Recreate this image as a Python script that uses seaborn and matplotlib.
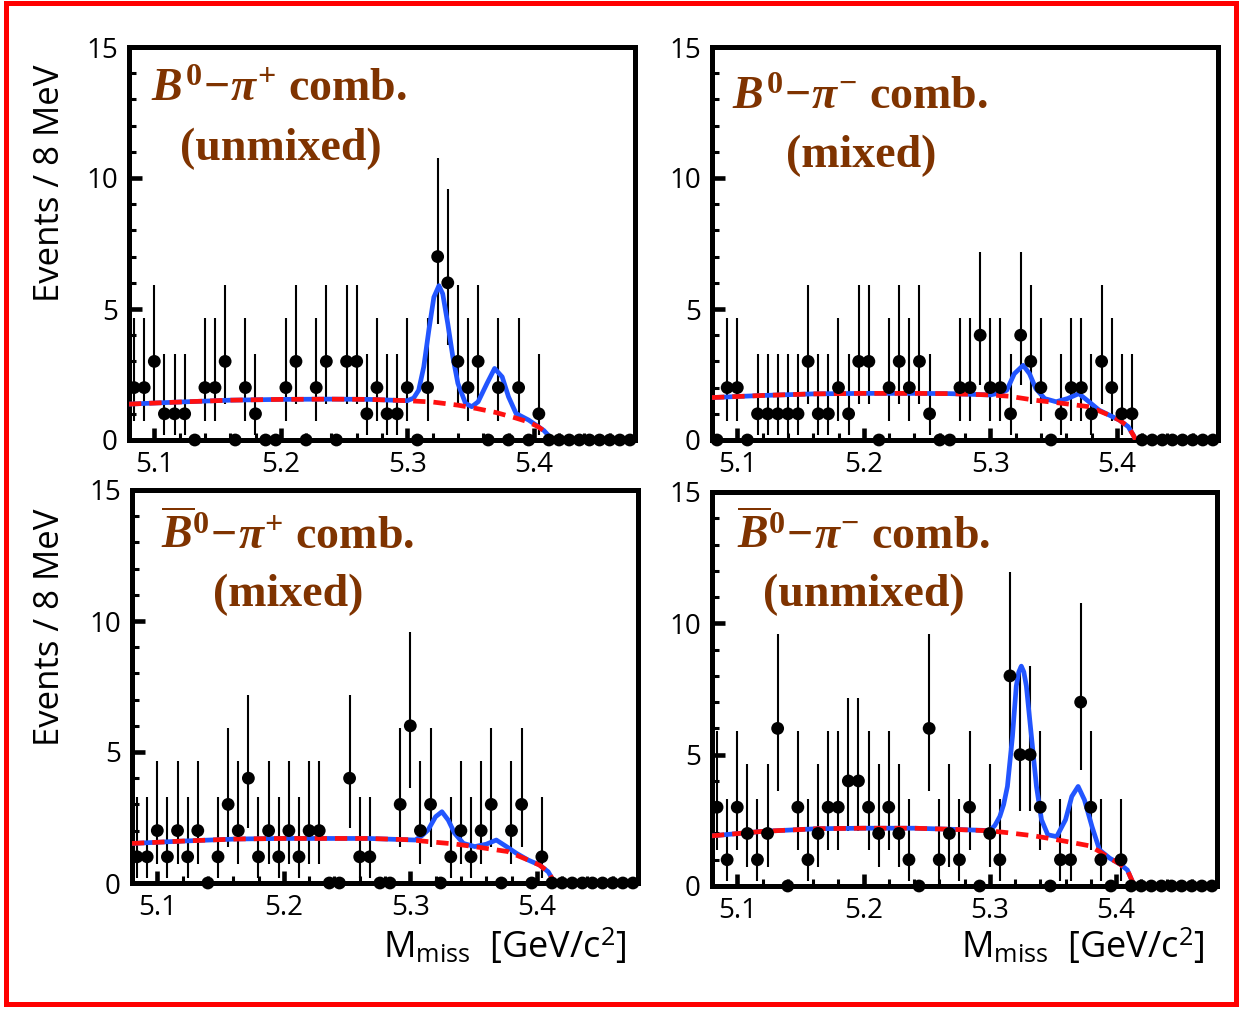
import numpy as np
import pandas as pd
import seaborn as sns
import matplotlib.pyplot as plt
from matplotlib.patches import Rectangle
from matplotlib.ticker import MultipleLocator, FormatStrFormatter

# 8 MeV bins, 5.08 - 5.48 GeV/c^2
bin_centers = np.round(5.084 + 0.008 * np.arange(50), 3)

counts_b0_pip = [2, 2, 3, 1, 1, 1, 0, 2, 2, 3,
                 0, 2, 1, 0, 0, 2, 3, 0, 2, 3,
                 0, 3, 3, 1, 2, 1, 1, 2, 0, 2,
                 7, 6, 3, 2, 3, 0, 2, 0, 2, 0,
                 1, 0, 0, 0, 0, 0, 0, 0, 0, 0]
counts_b0_pim = [0, 2, 2, 0, 1, 1, 1, 1, 1, 3,
                 1, 1, 2, 1, 3, 3, 0, 2, 3, 2,
                 3, 1, 0, 0, 2, 2, 4, 2, 2, 1,
                 4, 3, 2, 0, 1, 2, 2, 1, 3, 2,
                 1, 1, 0, 0, 0, 0, 0, 0, 0, 0]
counts_b0bar_pip = [1, 1, 2, 1, 2, 1, 2, 0, 1, 3,
                    2, 4, 1, 2, 1, 2, 1, 2, 2, 0,
                    0, 4, 1, 1, 0, 0, 3, 6, 2, 3,
                    0, 1, 2, 1, 2, 3, 0, 2, 3, 0,
                    1, 0, 0, 0, 0, 0, 0, 0, 0, 0]
counts_b0bar_pim = [3, 1, 3, 2, 1, 2, 6, 0, 3, 1,
                    2, 3, 3, 4, 4, 3, 2, 3, 2, 1,
                    0, 6, 1, 2, 1, 3, 0, 2, 1, 8,
                    5, 5, 3, 0, 1, 1, 7, 3, 1, 0,
                    1, 0, 0, 0, 0, 0, 0, 0, 0, 0]

# 68% Poisson intervals for n = 0..8
poisson_lo = [0.0, 0.173, 0.708, 1.367, 2.086, 2.840, 3.620, 4.419, 5.232]
poisson_hi = [1.841, 3.300, 4.638, 5.918, 7.163, 8.382, 9.584, 10.77, 11.95]

# fit curves: background (dashed) and total (solid)
bg1_m = [5.080, 5.120, 5.160, 5.200, 5.240, 5.270, 5.300, 5.320, 5.340, 5.355, 5.370, 5.385, 5.395, 5.403, 5.408, 5.413, 5.415]
bg1_y = [1.37, 1.45, 1.52, 1.55, 1.56, 1.55, 1.50, 1.45, 1.33, 1.20, 1.05, 0.85, 0.70, 0.52, 0.35, 0.10, 0.0]
tot1_m = [5.080, 5.120, 5.160, 5.200, 5.240, 5.270, 5.300, 5.305, 5.309, 5.313, 5.317, 5.321, 5.325, 5.328, 5.332, 5.336, 5.340, 5.346,
          5.351, 5.356, 5.363, 5.369, 5.375, 5.380, 5.386, 5.396, 5.403, 5.408, 5.413, 5.415]
tot1_y = [1.37, 1.45, 1.52, 1.55, 1.56, 1.55, 1.50, 1.60, 1.90, 2.79, 4.18, 5.45, 5.89, 5.58, 4.44, 3.17, 2.16, 1.40,
          1.27, 1.46, 2.16, 2.73, 2.41, 1.65, 1.01, 0.76, 0.53, 0.36, 0.10, 0.0]

bg2_m = [5.080, 5.120, 5.160, 5.200, 5.240, 5.268, 5.300, 5.315, 5.335, 5.357, 5.378, 5.394, 5.402, 5.409, 5.413, 5.415]
bg2_y = [1.62, 1.70, 1.76, 1.78, 1.78, 1.77, 1.72, 1.67, 1.52, 1.40, 1.27, 0.95, 0.76, 0.51, 0.19, 0.0]
tot2_m = [5.080, 5.120, 5.160, 5.200, 5.240, 5.268, 5.300, 5.308, 5.313, 5.319, 5.326, 5.331, 5.336, 5.343, 5.352, 5.361,
          5.370, 5.378, 5.386, 5.394, 5.402, 5.409, 5.413, 5.415]
tot2_y = [1.62, 1.70, 1.76, 1.78, 1.78, 1.77, 1.72, 1.80, 1.90, 2.53, 2.85, 2.53, 1.96, 1.58, 1.46, 1.58,
          1.77, 1.46, 1.14, 0.95, 0.76, 0.51, 0.19, 0.0]

bg3_m = [5.080, 5.120, 5.163, 5.200, 5.240, 5.267, 5.300, 5.314, 5.335, 5.356, 5.377, 5.393, 5.402, 5.409, 5.412, 5.414]
bg3_y = [1.51, 1.60, 1.68, 1.70, 1.70, 1.70, 1.65, 1.58, 1.49, 1.35, 1.20, 0.88, 0.69, 0.43, 0.18, 0.0]
tot3_m = [5.080, 5.120, 5.163, 5.200, 5.240, 5.267, 5.304, 5.309, 5.314, 5.320, 5.325, 5.330, 5.335, 5.342, 5.351, 5.360,
          5.368, 5.376, 5.384, 5.393, 5.402, 5.409, 5.412, 5.414]
tot3_y = [1.51, 1.60, 1.68, 1.70, 1.70, 1.70, 1.64, 1.80, 2.02, 2.53, 2.72, 2.40, 1.90, 1.51, 1.39, 1.48,
          1.64, 1.39, 1.13, 0.88, 0.69, 0.43, 0.18, 0.0]

bg4_m = [5.080, 5.120, 5.163, 5.200, 5.240, 5.269, 5.300, 5.314, 5.335, 5.358, 5.379, 5.387, 5.395, 5.403, 5.409, 5.413, 5.415]
bg4_y = [1.91, 2.08, 2.18, 2.20, 2.20, 2.16, 2.10, 2.03, 1.91, 1.72, 1.53, 1.31, 1.06, 0.84, 0.61, 0.17, 0.0]
tot4_m = [5.080, 5.120, 5.163, 5.200, 5.240, 5.269, 5.300, 5.304, 5.308, 5.311, 5.314, 5.318, 5.321, 5.323, 5.325, 5.327,
          5.329, 5.333, 5.337, 5.341, 5.346, 5.353, 5.360, 5.365, 5.370, 5.375, 5.381, 5.387, 5.395, 5.403, 5.409, 5.413, 5.415]
tot4_y = [1.91, 2.08, 2.18, 2.20, 2.20, 2.16, 2.11, 2.30, 2.65, 3.10, 3.79, 5.70, 7.61, 8.15, 8.37, 8.15,
          7.61, 5.70, 3.79, 2.52, 1.95, 1.88, 2.52, 3.41, 3.79, 3.28, 2.26, 1.37, 1.06, 0.84, 0.61, 0.17, 0.0]

titles_top = [r"$B^{\mathit{0}}\!-\!\pi^{+}$ comb.", r"$B^{\mathit{0}}\!-\!\pi^{-}$ comb.",
              r"$\overline{B}^{\mathit{0}}\!-\!\pi^{+}$ comb.", r"$\overline{B}^{\mathit{0}}\!-\!\pi^{-}$ comb."]
titles_bottom = ["(unmixed)", "(mixed)", "(mixed)", "(unmixed)"]

sns.set_theme(style="ticks")
plt.rcParams["font.family"] = ["Open Sans", "DejaVu Sans"]
plt.rcParams["text.color"] = "black"
plt.rcParams["xtick.color"] = "black"
plt.rcParams["ytick.color"] = "black"
plt.rcParams["mathtext.fontset"] = "custom"
plt.rcParams["mathtext.rm"] = "Liberation Serif:bold"
plt.rcParams["mathtext.it"] = "Liberation Serif:italic:bold"
plt.rcParams["mathtext.bf"] = "Liberation Serif:bold"
plt.rcParams["mathtext.sf"] = "Open Sans"

BROWN = "#7f3300"
BLUE = "#2255ff"
RED = "#ff1010"

fig = plt.figure(figsize=(12.4, 10.09), dpi=100)
W, H = 1240, 1009

# pixel boxes (left, top, right, bottom)
boxes = [(129, 47, 635, 440), (712, 47, 1218, 440), (132, 490, 638, 883), (712, 492, 1217, 886)]
panels = [
    (counts_b0_pip, bg1_m, bg1_y, tot1_m, tot1_y, (0.296, 0.862), (0.300, 0.712)),
    (counts_b0_pim, bg2_m, bg2_y, tot2_m, tot2_y, (0.292, 0.842), (0.294, 0.695)),
    (counts_b0bar_pip, bg3_m, bg3_y, tot3_m, tot3_y, (0.307, 0.849), (0.308, 0.705)),
    (counts_b0bar_pim, bg4_m, bg4_y, tot4_m, tot4_y, (0.300, 0.855), (0.301, 0.711)),
]

for i, (box, pan) in enumerate(zip(boxes, panels)):
    l, t, r, b = box
    ax = fig.add_axes([l / W, 1 - b / H, (r - l) / W, (b - t) / H])
    counts, bg_m, bg_y, tot_m, tot_y, pos1, pos2 = pan
    df = pd.DataFrame({"m": bin_centers, "n": counts})
    df["lo"] = [poisson_lo[n] for n in df["n"]]
    df["hi"] = [poisson_hi[n] for n in df["n"]]
    nz = df[df["n"] > 0]
    ax.vlines(nz["m"], nz["lo"], nz["hi"], color="black", lw=1.5, zorder=2)
    sns.lineplot(x=tot_m, y=tot_y, ax=ax, color=BLUE, lw=3.4, zorder=3)
    sns.lineplot(x=bg_m, y=bg_y, ax=ax, color=RED, lw=3.4, linestyle=(0, (2.6, 1.7)), zorder=4)
    sns.scatterplot(data=df, x="m", y="n", ax=ax, color="black", s=85, edgecolor="none",
                    clip_on=False, zorder=5)

    ax.set_xlim(5.08, 5.48)
    ax.set_ylim(0, 15)
    ax.set_xticks([5.1, 5.2, 5.3, 5.4])
    ax.xaxis.set_major_formatter(FormatStrFormatter("%.1f"))
    ax.xaxis.set_minor_locator(MultipleLocator(0.02))
    ax.set_yticks([0, 5, 10, 15])
    ax.yaxis.set_minor_locator(MultipleLocator(1))
    ax.tick_params(which="both", direction="in", top=False, right=False, labelsize=20, colors="black")
    ax.tick_params(which="major", length=9, width=3.3, pad=8)
    ax.tick_params(which="minor", length=5, width=2.2)
    for sp in ax.spines.values():
        sp.set_linewidth(3.6)
        sp.set_color("black")
        sp.set_visible(True)
    ax.set_xlabel("")
    ax.set_ylabel("")
    ax.set_facecolor("white")

    ax.text(pos1[0], pos1[1], titles_top[i], transform=ax.transAxes, ha="center", va="baseline",
            fontsize=33, color=BROWN, family="Liberation Serif", fontweight="bold")
    ax.text(pos2[0], pos2[1], titles_bottom[i], transform=ax.transAxes, ha="center", va="baseline",
            fontsize=33, color=BROWN, family="Liberation Serif", fontweight="bold")

# axis titles
for yc in (183, 627):
    fig.text(50 / W, 1 - yc / H, "Events / 8 MeV", rotation=90, ha="center", va="center", fontsize=25)
for xc in (505, 1083):
    fig.text(xc / W, 1 - 958 / H, r"M$_{\mathsf{miss}}$  [GeV/c$^{\mathsf{2}}$]", ha="center", va="baseline",
             fontsize=26)

# red frame around the figure
fig.patches.append(Rectangle((6 / W, 1 - 1004 / H), 1230 / W, 1001 / H, transform=fig.transFigure,
                             fill=False, edgecolor="#ff0000", lw=3.6))

fig.savefig("out.png", dpi=100, facecolor="white")
